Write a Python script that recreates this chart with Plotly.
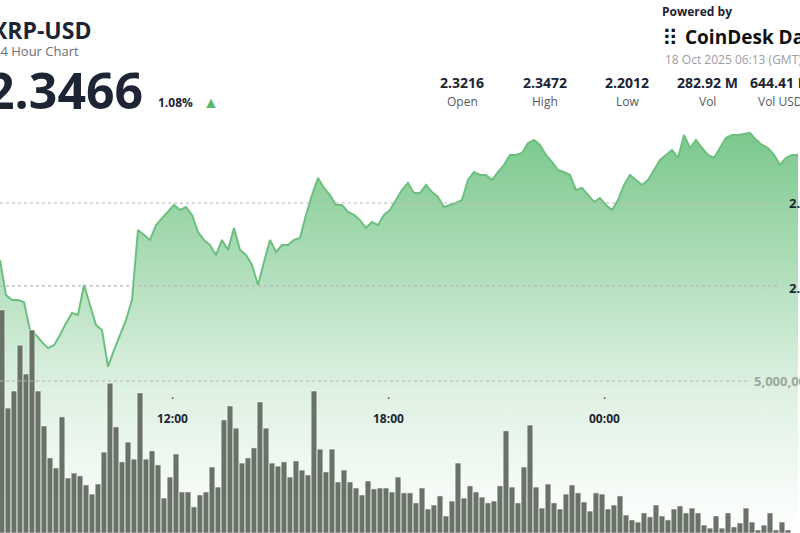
import pandas as pd
import plotly.graph_objects as go

# XRP-USD price, 10-minute points
price = [2.2656, 2.2444, 2.2414, 2.2414, 2.2402, 2.2233, 2.2203, 2.2160, 2.2124, 2.2142,
         2.2203, 2.2275, 2.2336, 2.2324, 2.2505, 2.2384, 2.2263, 2.2233, 2.2012, 2.2112,
         2.2203, 2.2293, 2.2414, 2.2837, 2.2807, 2.2777, 2.2867, 2.2909, 2.2946, 2.2988,
         2.2958, 2.2976, 2.2928, 2.2825, 2.2777, 2.2746, 2.2686, 2.2777, 2.2716, 2.2849,
         2.2716, 2.2686, 2.2626, 2.2505, 2.2644, 2.2777, 2.2704, 2.2746, 2.2746, 2.2777,
         2.2789, 2.2928, 2.3048, 2.3151, 2.3091, 2.3048, 2.2988, 2.2988, 2.2946, 2.2928,
         2.2897, 2.2849, 2.2885, 2.2867, 2.2928, 2.2958, 2.3018, 2.3079, 2.3121, 2.3060,
         2.3060, 2.3109, 2.3066, 2.3036, 2.2976, 2.2988, 2.3000, 2.3018, 2.3139, 2.3187,
         2.3169, 2.3169, 2.3139, 2.3187, 2.3230, 2.3290, 2.3290, 2.3302, 2.3362, 2.3381,
         2.3350, 2.3290, 2.3248, 2.3199, 2.3187, 2.3169, 2.3079, 2.3091, 2.3048, 2.3006,
         2.3030, 2.2988, 2.2958, 2.3018, 2.3109, 2.3169, 2.3139, 2.3109, 2.3139, 2.3199,
         2.3260, 2.3290, 2.3320, 2.3272, 2.3411, 2.3332, 2.3381, 2.3332, 2.3290, 2.3272,
         2.3332, 2.3393, 2.3411, 2.3411, 2.3417, 2.3423, 2.3381, 2.3350, 2.3332, 2.3290,
         2.3230, 2.3272, 2.3290, 2.3290]

# volume in millions
volume = [7.34, 4.11, 4.67, 6.18, 5.23, 6.68, 4.67, 3.52, 2.47, 2.14, 3.82, 1.81, 1.97, 1.88,
          1.58, 1.28, 1.61, 2.66, 4.93, 3.49, 2.34, 2.99, 2.43, 4.61, 2.43, 2.70, 2.24, 1.15,
          1.84, 2.60, 1.35, 1.35, 0.86, 1.25, 1.35, 2.17, 1.51, 3.72, 4.18, 3.45, 2.30, 2.47,
          2.80, 4.31, 3.45,
          2.30, 2.20, 2.34, 1.84, 2.37, 2.07, 1.91, 4.67, 2.76, 2.01, 2.76, 1.68, 2.07, 1.68,
          1.48, 1.25, 1.71, 1.45, 1.48, 1.48, 1.35, 1.84, 1.32, 1.32, 0.99, 1.48, 0.79, 0.92,
          1.22, 0.56, 1.05, 2.30, 1.15, 1.55, 1.35, 1.18, 0.99, 1.05, 1.55, 3.36, 1.51, 0.99,
          2.17,
          3.55, 1.51, 0.82, 1.61, 0.99, 0.79, 1.28, 1.58, 1.32, 1.02, 0.72, 1.32, 1.28, 0.79,
          0.92, 1.22, 0.59, 0.43, 0.36, 0.66, 0.53, 0.92, 0.56, 0.43, 0.79, 0.89, 0.66, 0.82,
          0.66, 0.26, 0.16, 0.56, 0.16, 0.66, 0.20, 0.33, 0.82, 0.36, 0.10, 0.26, 0.66, 0.10,
          0.36, 0.10]

start = pd.Timestamp("2025-10-17 07:13:20")
x0 = start
x1 = x0 + pd.Timedelta(minutes=10 * 800 / 6)
t_price = pd.date_range(start, periods=len(price), freq="10min")
t_vol = pd.date_range(x0 + pd.Timedelta(seconds=200), periods=len(volume), freq="10min")
vol = [v * 1e6 for v in volume]

stats = ["2.3216", "2.3472", "2.2012", "282.92 M", "644.41 M"]
stat_names = ["Open", "High", "Low", "Vol", "Vol USD"]
stat_x = [462, 545, 627, 707, 780]
time_ticks = ["2025-10-17 12:00", "2025-10-17 18:00", "2025-10-18 00:00"]

W, H = 800, 533
FONT = "Open Sans"
P_LO, P_HI = 2.30 - 330 / 1657, 2.30 + 203 / 1657

fig = go.Figure()
fig.add_trace(go.Scatter(
    x=t_price, y=price, mode="lines", line=dict(color="#6cc07f", width=2),
    fill="tozeroy",
    fillgradient=dict(type="vertical", start=P_LO, stop=2.345,
                      colorscale=[[0, "rgba(255,255,255,1)"], [0.35, "rgba(222,241,226,1)"],
                                  [1, "rgba(122,199,140,1)"]]),
    yaxis="y", hoverinfo="skip"))
fig.add_trace(go.Bar(
    x=t_vol, y=vol, marker=dict(color="#697267", line=dict(color="white", width=0.5)),
    yaxis="y2", hoverinfo="skip"))

shapes = []
for yv in [2.30, 2.25]:
    shapes.append(dict(type="line", xref="paper", yref="y", x0=0, x1=0.975, y0=yv, y1=yv,
                       line=dict(color="#b5b5b5", width=1.2, dash="dot")))
shapes.append(dict(type="line", xref="paper", yref="y2", x0=0, x1=0.935, y0=5e6, y1=5e6,
                   line=dict(color="#b5b5b5", width=1.2, dash="dot")))

def px(x):
    return x / W

def py(y):
    return 1 - y / H

ann = []
def txt(s, x, y, size, color="#1d2433", bold=False, anchor="left"):
    ann.append(dict(text=f"<b>{s}</b>" if bold else s, x=px(x), y=py(y), xref="paper", yref="paper",
                    xanchor=anchor, yanchor="middle", showarrow=False,
                    font=dict(size=size, color=color, family=FONT)))

txt("XRP-USD", -10, 30, 23, bold=True)
txt("24 Hour Chart", -9, 51, 13, color="#6b6f75")
txt("2.3466", -16, 90, 50, bold=True)
txt("1.08%", 156, 102, 12, bold=True)
txt("▲", 201, 102, 16, color="#5cb86e")
for v, n, x in zip(stats, stat_names, stat_x):
    txt(v, x, 82, 14, bold=True, anchor="center")
    txt(n, x, 101, 12, color="#555a60", anchor="center")
txt("Powered by", 660, 12, 12, bold=True)
txt("⠿", 660, 37, 22, color="#111")
txt("CoinDesk Data", 683, 37, 19, color="#111", bold=True)
txt("18 Oct 2025 06:13 (GMT)", 663, 60, 12, color="#9a9ea3")
txt("2.30", 787, 203, 13, bold=True)
txt("2.25", 787, 288, 13, bold=True)
txt("5,000,000", 752, 381, 13, color="#9aa79c", bold=True)
for t in time_ticks:
    ann.append(dict(text="<b>" + t[-5:] + "</b>", x=t, y=py(418), xref="x", yref="paper",
                    yanchor="middle", showarrow=False,
                    font=dict(size=12, color="#1d2433", family=FONT)))
    ann.append(dict(text="·", x=t, y=py(398), xref="x", yref="paper", yanchor="middle",
                    showarrow=False, font=dict(size=12, color="#333", family=FONT)))

fig.update_layout(
    width=W, height=H, margin=dict(l=0, r=0, t=0, b=0),
    paper_bgcolor="white", plot_bgcolor="white", showlegend=False, bargap=0.05,
    xaxis=dict(range=[x0, x1], visible=False),
    yaxis=dict(range=[P_LO, P_HI], visible=False),
    yaxis2=dict(range=[0, 533 * 32900], overlaying="y", visible=False),
    shapes=shapes, annotations=ann,
)
fig.write_html("out.html", config={"displayModeBar": False},
               post_script="document.body.style.margin='0';document.body.style.overflow='hidden';")
